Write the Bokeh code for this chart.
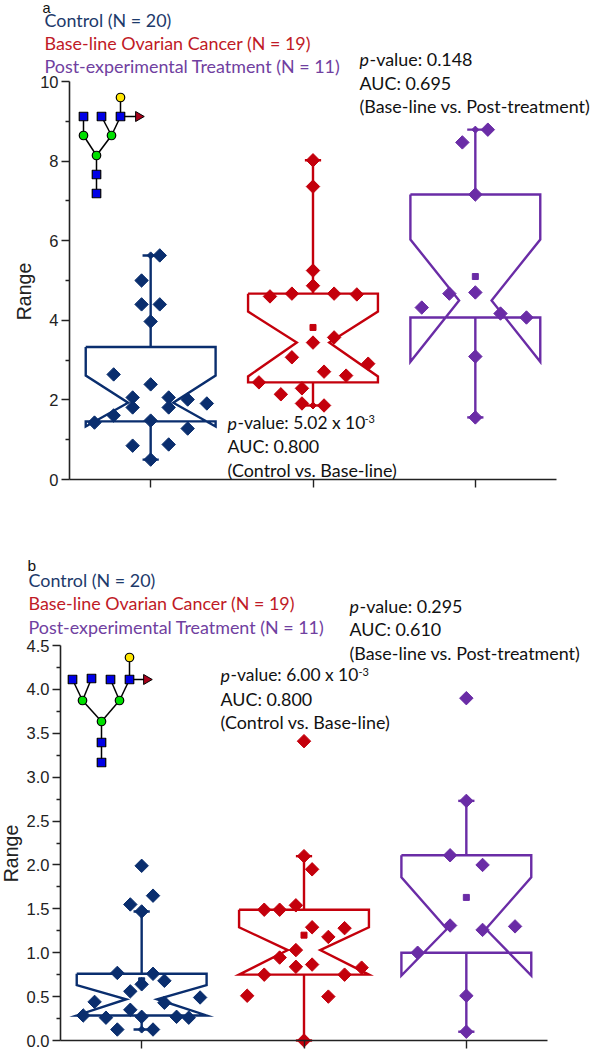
from math import pi
from bokeh.plotting import figure
from bokeh.layouts import column
from bokeh.models import Label, FixedTicker, Range1d, NumeralTickFormatter
from bokeh.embed import file_html
from bokeh.resources import INLINE

NAVY, RED, PURPLE = "#0a2e6e", "#c4000c", "#6a2ca6"
TXT_NAVY, TXT_RED, TXT_PURPLE, TXT_DARK = "#1d3a6b", "#c01a26", "#7040a0", "#111111"
TEXT_FONT = "Lato"
AXIS_FONT = "Liberation Sans"

# ---- panel a values ----
a_control_x = [1.0, .889, 1.111, 1.228, 1.346, .889, 1.111, .772, .654, 1.0, 1.228, .889, 1.111, 1.0, .772, 1.0, .944, 1.056, .944, 1.056]
a_control_y = [2.39, 2.06, 2.06, 2.01, 1.91, 1.81, 1.81, 1.61, 1.43, 1.48, 1.28, .85, .88, .50, 2.64, 3.97, 4.40, 4.40, 5.00, 5.63]
a_base_x = [2.0, 2.0, 2.0, 2.0, 1.735, 1.87, 2.13, 2.27, 2.13, 2.0, 1.87, 2.34, 2.068, 2.204, 1.667, 1.932, 1.802, 1.932, 2.068]
a_base_y = [8.02, 7.36, 5.25, 4.87, 4.60, 4.67, 4.67, 4.65, 3.57, 3.44, 3.07, 2.91, 2.71, 2.61, 2.44, 2.29, 2.14, 1.91, 1.86]
a_post_x = [3.077, 2.92, 3.0, 2.84, 3.0, 2.67, 3.155, 3.315, 3.0, 3.0]
a_post_y = [8.79, 8.47, 7.16, 4.67, 4.70, 4.32, 4.17, 4.07, 3.09, 1.56]
# box stats: q3, notch high, median, notch low, q1, whisker top, whisker low, mean, notch half width
a_control_box = [3.33, 2.61, 1.93, 1.33, 1.46, 5.63, 0.50, 2.39, .139]
a_base_box = [4.67, 4.22, 3.44, 2.59, 2.44, 8.02, 1.86, 3.82, .10]
a_post_box = [7.16, 6.03, 4.50, 2.96, 4.07, 8.79, 1.56, 5.10, .10]

# ---- panel b values ----
b_control_x = [1.0, 1.07, .93, 1.0, .85, 1.07, 1.14, 1.0, .93, 1.36, .71, 1.14, .93, .64, 1.0, .78, 1.215, 1.29, .85, 1.07]
b_control_y = [1.99, 1.65, 1.55, 1.47, .77, .76, .68, .64, .56, .49, .44, .43, .35, .285, .27, .26, .27, .26, .125, .125]
b_base_x = [2.0, 2.0, 2.05, 1.95, 1.755, 1.85, 2.05, 2.15, 2.25, 1.95, 1.85, 1.95, 2.05, 2.355, 1.755, 2.25, 1.65, 2.15, 2.0]
b_base_y = [3.41, 2.10, 1.95, 1.54, 1.49, 1.49, 1.29, 1.18, 1.28, 1.03, .945, .84, .865, .83, .75, .75, .51, .50, 0.0]
b_post_x = [3.0, 3.0, 2.90, 3.10, 2.90, 3.30, 3.10, 2.70, 3.0, 3.0]
b_post_y = [3.90, 2.73, 2.11, 2.0, 1.31, 1.30, 1.26, 1.0, .51, .10]
b_control_box = [.76, .63, .47, .285, .285, 1.47, .125, .68, .095]
b_base_box = [1.49, 1.29, 1.03, .75, .75, 2.10, 0.0, 1.20, .10]
b_post_box = [2.11, 1.86, 1.27, .74, 1.0, 2.73, .10, 1.63, .12]

BOX_HALF = 0.40
CAP_HALF = 0.05


def panel(height, top_page, y0_px, y1_px, ytop, left, right, ymajor, yminor, range_pos, fmt,
          series, texts, sups, italics, glycan):
    """The frame fills the figure; axes are pinned at the chart's own origin."""
    scale = (y0_px - y1_px) / ytop
    yd = lambda py: (y0_px - py) / scale
    xd = lambda px: 0.5 + (px - left) / (right - left) * 3
    p = figure(width=591, height=height, toolbar_location=None, output_backend="svg",
               x_range=Range1d(xd(0), xd(591)), y_range=Range1d(yd(top_page + height), yd(top_page)),
               min_border_left=0, min_border_right=0, min_border_top=0, min_border_bottom=0,
               outline_line_color=None)
    p.grid.visible = False
    p.background_fill_color = None
    p.border_fill_color = None

    ax = p.yaxis[0]
    ax.fixed_location = 0.5
    ax.ticker = FixedTicker(ticks=ymajor, minor_ticks=yminor)
    ax.formatter = NumeralTickFormatter(format=fmt)
    ax.bounds = (0, ytop)
    ax.axis_line_width = 1.6
    ax.axis_line_color = "#222222"
    ax.major_tick_line_width = ax.minor_tick_line_width = 1.4
    ax.major_tick_line_color = ax.minor_tick_line_color = "#222222"
    ax.major_tick_out, ax.major_tick_in = 8, 0
    ax.minor_tick_out, ax.minor_tick_in = 4, 0
    ax.major_label_text_font = AXIS_FONT
    ax.major_label_text_font_size = "16.5px"
    ax.major_label_text_color = "#222222"
    ax.major_label_standoff = 3

    bx = p.xaxis[0]
    bx.fixed_location = 0
    bx.bounds = (0.5, 3.5)
    bx.ticker = FixedTicker(ticks=[1, 2, 3], minor_ticks=[])
    bx.major_label_overrides = {1: "", 2: "", 3: ""}
    bx.axis_line_width = 1.6
    bx.axis_line_color = "#222222"
    bx.major_tick_line_width = 1.4
    bx.major_tick_line_color = "#222222"
    bx.major_tick_out, bx.major_tick_in = 8, 0
    bx.minor_tick_line_color = None

    # notched boxes, whiskers and points
    for c, color, box, xs, ys in series:
        q3, nh, med, nl, q1, top, low, mean, n = box
        w = BOX_HALF
        p.line([c - w, c + w, c + w, c + n, c + w, c + w, c - w, c - w, c - n, c - w, c - w],
               [q3, q3, nh, med, nl, q1, q1, nl, med, nh, q3],
               line_color=color, line_width=2.4, line_join="miter")
        p.segment([c, c, c - CAP_HALF, c - CAP_HALF], [q3, q1, top, low],
                  [c, c, c + CAP_HALF, c + CAP_HALF], [top, low, top, low],
                  line_color=color, line_width=2.4)
        p.scatter([c, c], [top, low], marker="square", angle=pi / 4, size=5, color=color)
        p.scatter([c], [mean], marker="square", size=6, color=color)
        p.scatter(xs, ys, marker="square", angle=pi / 4, size=9.5, color=color)

    # glycan icon (page-pixel layout)
    squares, circles, tri, edges = glycan
    for (a, b) in edges:
        p.line([xd(a[0]), xd(b[0])], [yd(a[1]), yd(b[1])], line_color="black", line_width=1.5)
    p.scatter([xd(q[0]) for q in squares], [yd(q[1]) for q in squares], marker="square", size=8.5,
              fill_color="#0000e6", line_color="black", line_width=1.2)
    p.scatter([xd(q[0]) for q in circles], [yd(q[1]) for q in circles], marker="circle", size=8.5,
              fill_color=[q[2] for q in circles], line_color="black", line_width=1.2)
    p.scatter([xd(tri[0])], [yd(tri[1])], marker="triangle", angle=-pi / 2, size=10,
              fill_color="#a8001a", line_color="black", line_width=1.0)

    def put(px, py, txt, color, size, style="normal", font=TEXT_FONT):
        p.add_layout(Label(x=xd(px), y=yd(py - 1), text=txt, text_color=color, text_font=font,
                           text_font_size=f"{size}px", text_font_style=style,
                           text_baseline="middle", text_align="left"))
    for t in texts:
        put(*t)
    for t in sups:
        put(*t)
    for t in italics:
        put(*t, "italic")
    # y-axis title, placed where the reference has it (off the axis' centre)
    p.add_layout(Label(x=xd(range_pos[0]), y=yd(range_pos[1]), text="Range", angle=pi / 2,
                       text_color="#222222", text_font=AXIS_FONT, text_font_size="19.5px",
                       text_align="center", text_baseline="middle"))
    return p


SZ = 17.9
SZ2 = 17.4
a_texts = [
    (42, 8, "a", TXT_DARK, 14.5, "normal", AXIS_FONT),
    (44, 20, "Control (N = 20)", TXT_NAVY, SZ),
    (44, 43, "Base-line Ovarian Cancer (N = 19)", TXT_RED, SZ),
    (44, 66, "Post-experimental Treatment (N = 11)", TXT_PURPLE, SZ),
    (369, 59, "-value: 0.148", TXT_DARK, SZ),
    (359, 83, "AUC: 0.695", TXT_DARK, SZ),
    (359, 106, "(Base-line vs. Post-treatment)", TXT_DARK, SZ),
    (237, 423, "-value: 5.02 x 10", TXT_DARK, SZ2),
    (227, 446, "AUC: 0.800", TXT_DARK, SZ),
    (227, 470, "(Control vs. Base-line)", TXT_DARK, SZ),
]
a_sups = [(364, 419, "-3", TXT_DARK, 11)]
a_ital = [(359, 59, "p", TXT_DARK, SZ), (227, 423, "p", TXT_DARK, SZ)]

b_texts = [
    (27, 566, "b", TXT_DARK, 15.5, "normal", AXIS_FONT),
    (28, 580, "Control (N = 20)", TXT_NAVY, SZ),
    (28, 603, "Base-line Ovarian Cancer (N = 19)", TXT_RED, SZ),
    (28, 627, "Post-experimental Treatment (N = 11)", TXT_PURPLE, SZ),
    (359, 606, "-value: 0.295", TXT_DARK, SZ),
    (349, 629, "AUC: 0.610", TXT_DARK, SZ),
    (349, 653, "(Base-line vs. Post-treatment)", TXT_DARK, SZ),
    (230, 675, "-value: 6.00 x 10", TXT_DARK, SZ2),
    (220, 699, "AUC: 0.800", TXT_DARK, SZ),
    (220, 722, "(Control vs. Base-line)", TXT_DARK, SZ),
]
b_sups = [(358, 672, "-3", TXT_DARK, 11)]
b_ital = [(220, 675, "p", TXT_DARK, SZ), (349, 606, "p", TXT_DARK, SZ)]

# glycan layouts
Y, G = "#ffe600", "#00e000"
gs1, gs2, gs3 = (83, 116), (101, 116), (120, 116)
gy, gg1, gg2, gg3 = (120, 97, Y), (83, 135, G), (111, 135, G), (96, 155, G)
gc1, gc2, gt = (96, 174), (96, 193), (138, 116)
a_glycan = ([gs1, gs2, gs3, gc1, gc2], [gy, gg1, gg2, gg3], gt,
            [(gy, gs3), (gs3, gg2), (gs2, gg2), (gs1, gg1), (gg1, gg3), (gg2, gg3),
             (gg3, gc1), (gc1, gc2), (gs3, gt)])
hs1, hs2, hs3, hs4 = (72, 679), (91, 678), (110, 679), (129, 679)
hy, hg1, hg2, hg3 = (129, 657, Y), (82, 700, G), (119, 700, G), (101, 721, G)
hc1, hc2, ht = (101, 742), (101, 762), (146, 679)
b_glycan = ([hs1, hs2, hs3, hs4, hc1, hc2], [hy, hg1, hg2, hg3], ht,
            [(hy, hs4), (hs4, hg2), (hs3, hg2), (hs1, hg1), (hs2, hg1), (hg1, hg3), (hg2, hg3),
             (hg3, hc1), (hc1, hc2), (hs4, ht)])

fig_a = panel(530, 0, 479, 81, 10, 69, 556, [0, 2, 4, 6, 8, 10], [1, 3, 5, 7, 9], (23, 291), "0",
              [(1, NAVY, a_control_box, a_control_x, a_control_y),
               (2, RED, a_base_box, a_base_x, a_base_y),
               (3, PURPLE, a_post_box, a_post_x, a_post_y)],
              a_texts, a_sups, a_ital, a_glycan)
fig_b = panel(519, 530, 1040, 645, 4.5, 60, 547,
              [0, .5, 1, 1.5, 2, 2.5, 3, 3.5, 4, 4.5],
              [.25, .75, 1.25, 1.75, 2.25, 2.75, 3.25, 3.75, 4.25], (10, 853), "0.0",
              [(1, NAVY, b_control_box, b_control_x, b_control_y),
               (2, RED, b_base_box, b_base_x, b_base_y),
               (3, PURPLE, b_post_box, b_post_x, b_post_y)],
              b_texts, b_sups, b_ital, b_glycan)

page = column(fig_a, fig_b, spacing=0)
open("out.html", "w").write(file_html(page, INLINE))
